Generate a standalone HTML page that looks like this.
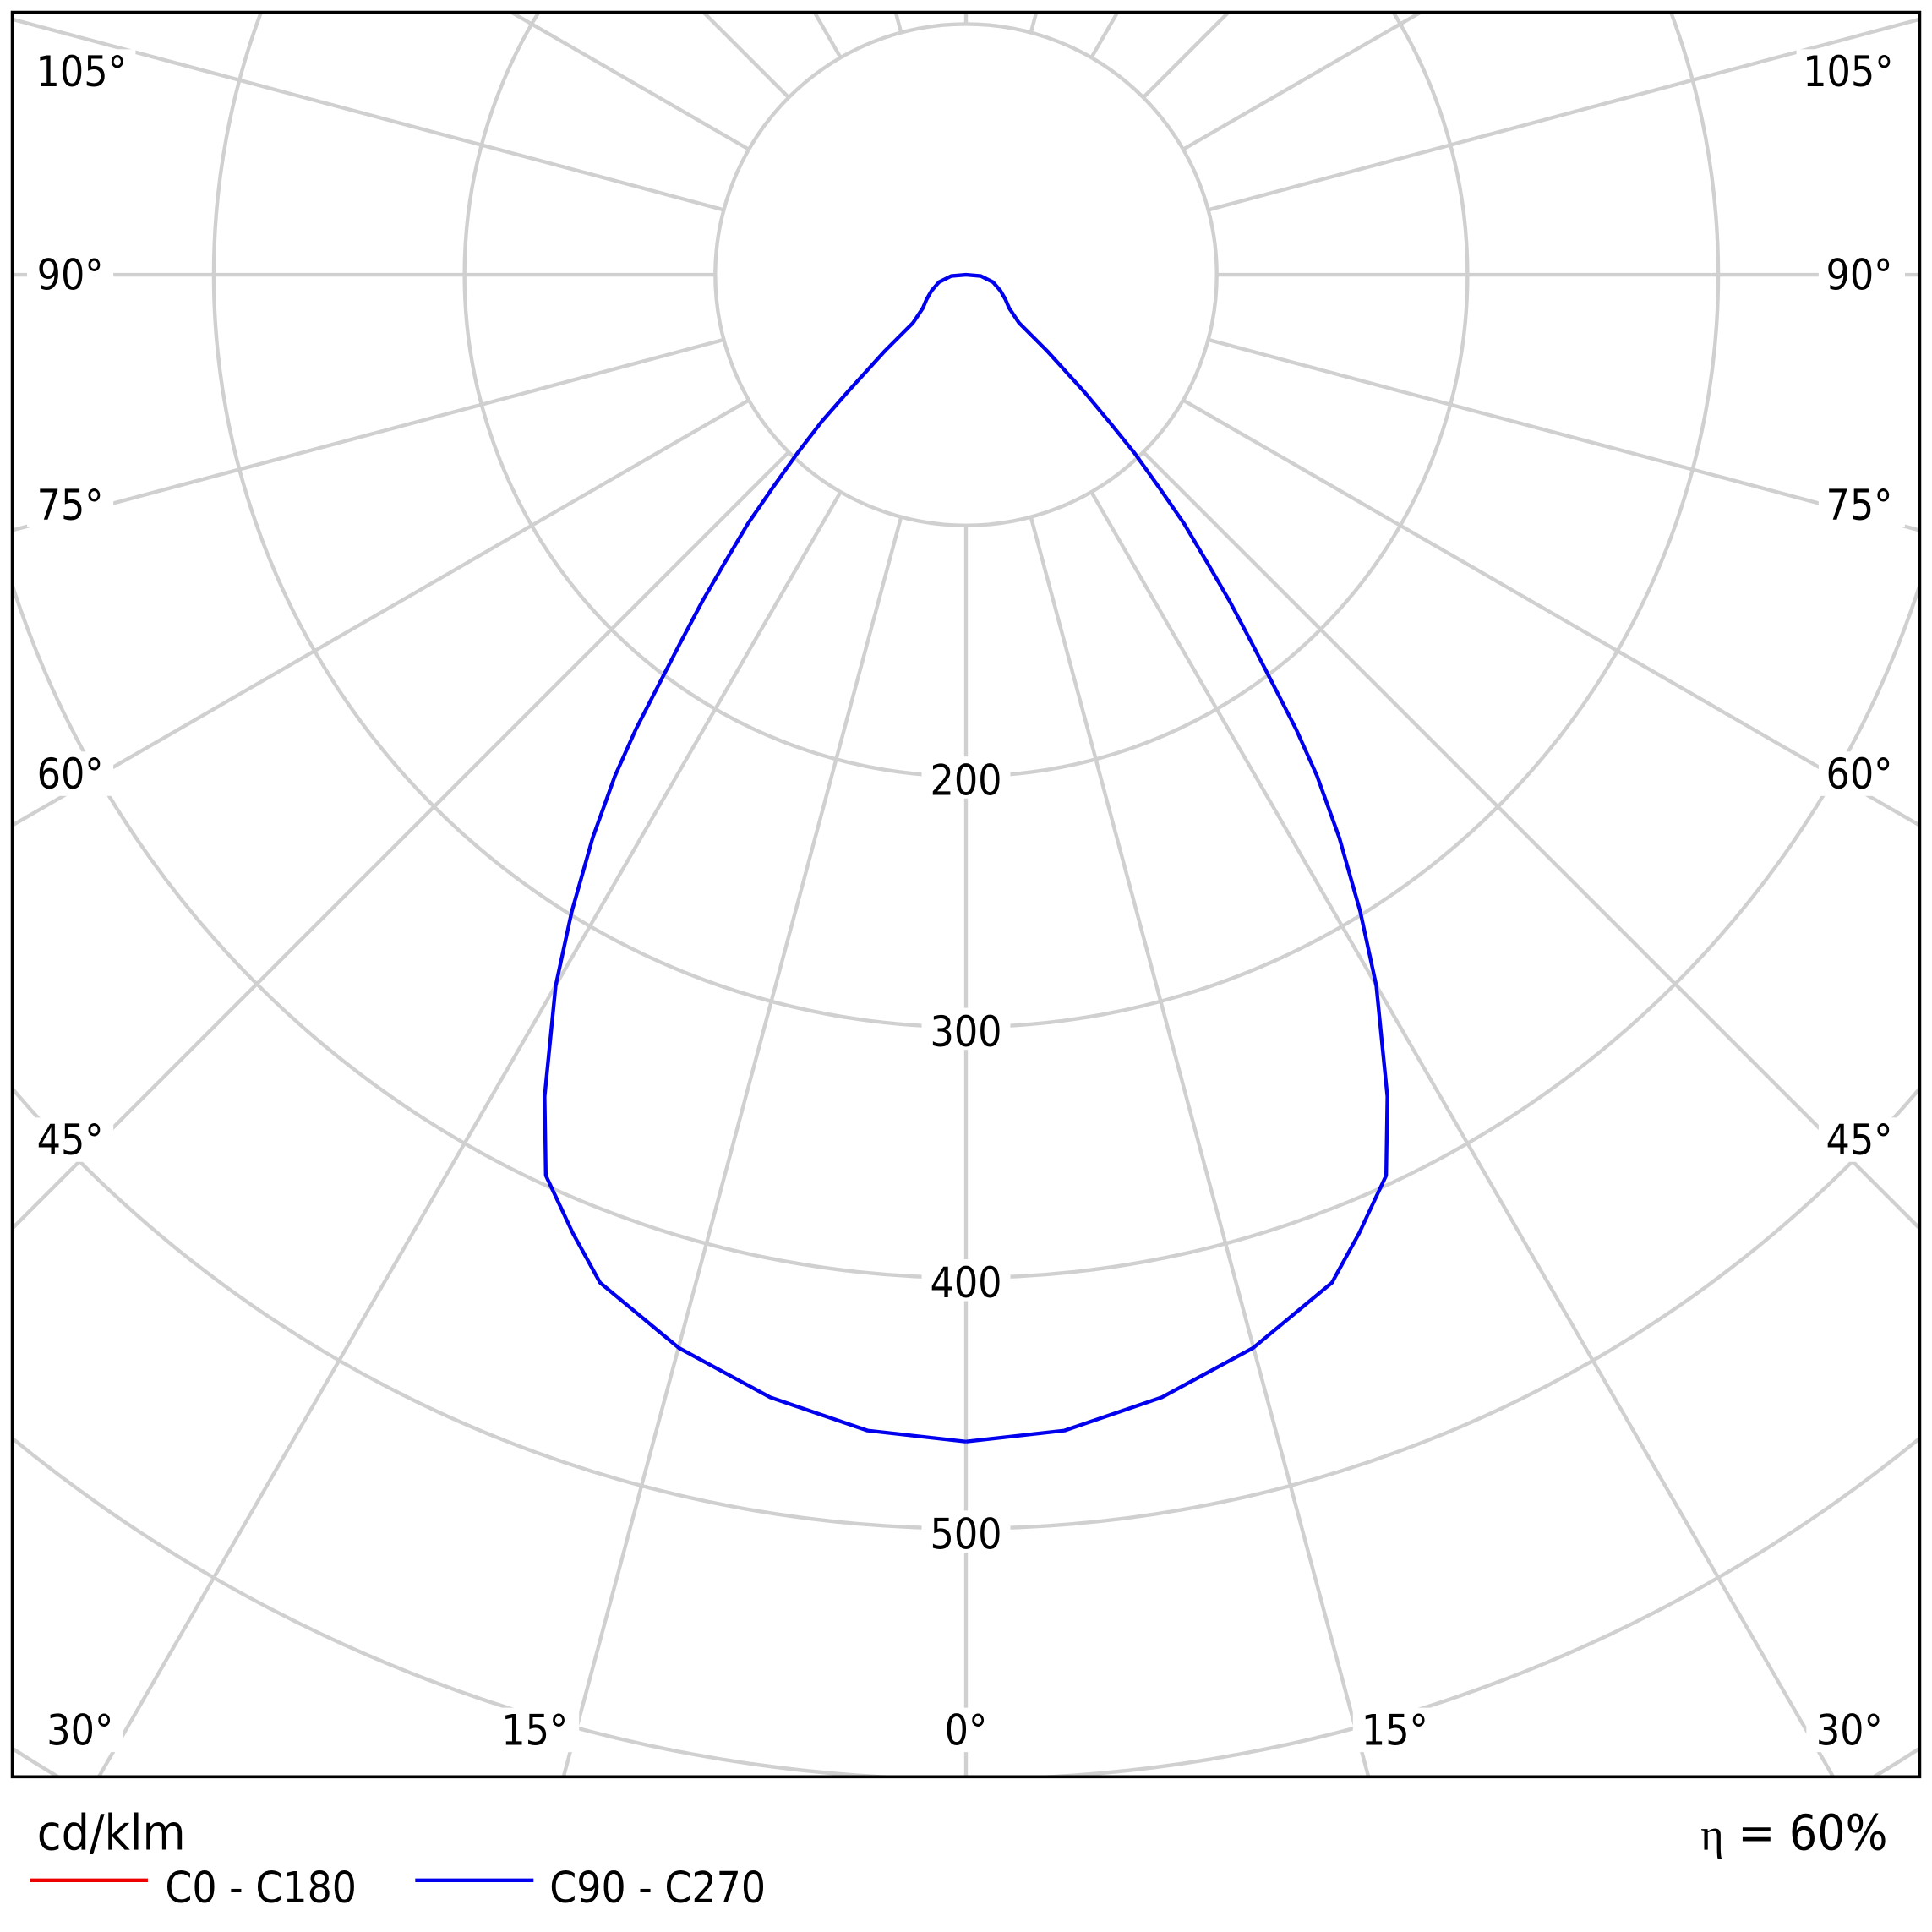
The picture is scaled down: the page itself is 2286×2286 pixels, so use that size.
<!DOCTYPE html>
<html><head><meta charset="utf-8"><style>
html,body{margin:0;padding:0;background:#fff;width:2286px;height:2286px;overflow:hidden;}
svg{display:block;}
text{font-family:"DejaVu Sans Condensed","Liberation Sans Narrow","Liberation Sans",sans-serif;fill:#000;}
</style></head><body>
<svg width="2286" height="2286" viewBox="0 0 1568 1568" xmlns="http://www.w3.org/2000/svg">
<defs><clipPath id="c"><rect x="10" y="10" width="1548" height="1432"/></clipPath></defs>
<rect width="1568" height="1568" fill="#fff"/>
<g clip-path="url(#c)" stroke="#d0d0d0" stroke-width="3" fill="none">
<circle cx="784" cy="223" r="203.5"/>
<circle cx="784" cy="223" r="407"/>
<circle cx="784" cy="223" r="610.5"/>
<circle cx="784" cy="223" r="814"/>
<circle cx="784" cy="223" r="1017.5"/>
<circle cx="784" cy="223" r="1221"/>
<path d="M10,1419 A1424.5,1424.5 0 0 0 47,1442 M1521,1442 A1424.5,1424.5 0 0 0 1558,1419"/>
<line x1="784" y1="426.5" x2="784" y2="1442" transform="rotate(0 784 223)"/>
<line x1="784" y1="426.5" x2="784" y2="1490" transform="rotate(15 784 223)"/>
<line x1="784" y1="426.5" x2="784" y2="1635" transform="rotate(30 784 223)"/>
<line x1="784" y1="426.5" x2="784" y2="1320" transform="rotate(45 784 223)"/>
<line x1="784" y1="426.5" x2="784" y2="1120" transform="rotate(60 784 223)"/>
<line x1="784" y1="426.5" x2="784" y2="1026" transform="rotate(75 784 223)"/>
<line x1="784" y1="426.5" x2="784" y2="999" transform="rotate(90 784 223)"/>
<line x1="784" y1="426.5" x2="784" y2="1026" transform="rotate(105 784 223)"/>
<line x1="784" y1="426.5" x2="784" y2="651" transform="rotate(120 784 223)"/>
<line x1="784" y1="426.5" x2="784" y2="526" transform="rotate(135 784 223)"/>
<line x1="784" y1="426.5" x2="784" y2="471" transform="rotate(150 784 223)"/>
<line x1="784" y1="426.5" x2="784" y2="445" transform="rotate(165 784 223)"/>
<line x1="784" y1="426.5" x2="784" y2="438" transform="rotate(180 784 223)"/>
<line x1="784" y1="426.5" x2="784" y2="445" transform="rotate(195 784 223)"/>
<line x1="784" y1="426.5" x2="784" y2="471" transform="rotate(210 784 223)"/>
<line x1="784" y1="426.5" x2="784" y2="526" transform="rotate(225 784 223)"/>
<line x1="784" y1="426.5" x2="784" y2="651" transform="rotate(240 784 223)"/>
<line x1="784" y1="426.5" x2="784" y2="1026" transform="rotate(255 784 223)"/>
<line x1="784" y1="426.5" x2="784" y2="999" transform="rotate(270 784 223)"/>
<line x1="784" y1="426.5" x2="784" y2="1026" transform="rotate(285 784 223)"/>
<line x1="784" y1="426.5" x2="784" y2="1120" transform="rotate(300 784 223)"/>
<line x1="784" y1="426.5" x2="784" y2="1320" transform="rotate(315 784 223)"/>
<line x1="784" y1="426.5" x2="784" y2="1635" transform="rotate(330 784 223)"/>
<line x1="784" y1="426.5" x2="784" y2="1490" transform="rotate(345 784 223)"/>
</g>
<g fill="#fff">
<rect x="748" y="614" width="72" height="34"/>
<rect x="748" y="818" width="72" height="34"/>
<rect x="748" y="1022" width="72" height="34"/>
<rect x="748" y="1226" width="72" height="34"/>
<rect x="22" y="40" width="88" height="36"/><rect x="1458" y="40" width="88" height="36"/>
<rect x="22" y="205" width="70" height="36"/><rect x="1476" y="205" width="70" height="36"/>
<rect x="22" y="392" width="70" height="36"/><rect x="1476" y="392" width="70" height="36"/>
<rect x="22" y="610" width="70" height="36"/><rect x="1476" y="610" width="70" height="36"/>
<rect x="22" y="907" width="70" height="36"/><rect x="1476" y="907" width="70" height="36"/>
<rect x="30" y="1386" width="70" height="36"/><rect x="1466" y="1386" width="70" height="36"/>
<rect x="400" y="1386" width="70" height="36"/><rect x="1098" y="1386" width="70" height="36"/>
<rect x="758" y="1386" width="52" height="36"/>
</g>
<g font-size="34" text-anchor="middle">
<text x="784" y="645">200</text>
<text x="784" y="849">300</text>
<text x="784" y="1053">400</text>
<text x="784" y="1257">500</text>
<text x="66" y="70">105°</text><text x="1500" y="70">105°</text>
<text x="57" y="235">90°</text><text x="1509" y="235">90°</text>
<text x="57" y="422">75°</text><text x="1509" y="422">75°</text>
<text x="57" y="640">60°</text><text x="1509" y="640">60°</text>
<text x="57" y="937">45°</text><text x="1509" y="937">45°</text>
<text x="65" y="1416">30°</text><text x="1501" y="1416">30°</text>
<text x="434" y="1416">15°</text><text x="1132" y="1416">15°</text>
<text x="784" y="1416">0°</text>
</g>
<polyline fill="none" stroke="#0000ee" stroke-width="3" stroke-linejoin="round" points="
784,1170 864,1161 943,1134 1017,1094 1081,1041 1103,1001 1125,954 1126,890 1117,800 1104,740 1087,680 1069,630 1052,592 1033,555 1016,522 998,488 980,457 961,425 941,396 921,368 900,342 880,318 850,285 827,262 819,250 816,243 812,236 806,229 796,224 784,223
772,224 762,229 756,236 752,243 749,250 741,262 718,285 688,318 667,342 647,368 627,396 607,425 588,457 570,488 552,522 535,555 516,592 499,630 481,680 464,740 451,800 442,890 443,954 465,1001 487,1041 551,1094 625,1134 704,1161 784,1170"/>
<rect x="10" y="10" width="1548" height="1432" fill="none" stroke="#000" stroke-width="2.5"/>
<text x="30" y="1501" font-size="40">cd/klm</text>
<line x1="24" y1="1526" x2="120" y2="1526" stroke="#ee0000" stroke-width="3"/>
<text x="134" y="1544" font-size="35">C0 - C180</text>
<line x1="337" y1="1526" x2="433" y2="1526" stroke="#0000ee" stroke-width="3"/>
<text x="446" y="1544" font-size="35">C90 - C270</text>
<text x="1532" y="1501" font-size="40" text-anchor="end"><tspan font-family="Liberation Serif,serif" font-size="36">η</tspan> = 60%</text>
</svg>
</body></html>
